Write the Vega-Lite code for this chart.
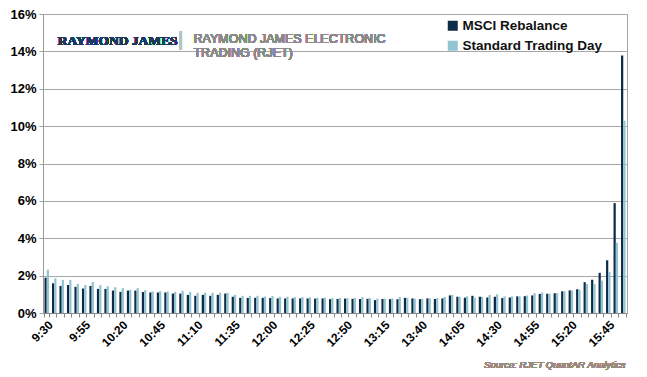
{
  "$schema": "https://vega.github.io/schema/vega-lite/v6.json",
  "width": 584,
  "height": 299,
  "autosize": "none",
  "padding": {"left": 43, "top": 14, "right": 20, "bottom": 64},
  "background": "white",
  "config": {
    "view": {"stroke": "#a6a6a6", "strokeWidth": 1},
    "font": "Liberation Sans",
    "axisY": {
      "title": null,
      "tickCount": 10,
      "labelOverlap": false,
      "labelExpr": "datum.value + '%'",
      "labelFontSize": 13,
      "labelFontWeight": "bold",
      "labelColor": "#000000",
      "labelPadding": 3,
      "tickSize": 4,
      "tickColor": "#a0a0a0",
      "domainColor": "#999999",
      "gridColor": "#a6a6a6",
      "gridWidth": 1
    },
    "axisX": {
      "title": null,
      "labelExpr": "indexof(['9:30','9:55','10:20','10:45','11:10','11:35','12:00','12:25','12:50','13:15','13:40','14:05','14:30','14:55','15:20','15:45'], datum.value) >= 0 ? datum.value : ''",
      "labelOverlap": false,
      "labelAngle": -45,
      "labelAlign": "right",
      "labelBaseline": "top",
      "labelFontSize": 12,
      "labelFontWeight": "bold",
      "labelColor": "#000000",
      "labelPadding": 2,
      "tickBand": "extent",
      "tickSize": 4,
      "tickColor": "#888888",
      "domainColor": "#888888",
      "grid": false
    }
  },
  "data": {
    "values": [
      {"time": "9:30", "MSCI Rebalance": 1.89, "Standard Trading Day": 2.32},
      {"time": "9:35", "MSCI Rebalance": 1.59, "Standard Trading Day": 1.86},
      {"time": "9:40", "MSCI Rebalance": 1.45, "Standard Trading Day": 1.77},
      {"time": "9:45", "MSCI Rebalance": 1.5, "Standard Trading Day": 1.77},
      {"time": "9:50", "MSCI Rebalance": 1.4, "Standard Trading Day": 1.56},
      {"time": "9:55", "MSCI Rebalance": 1.31, "Standard Trading Day": 1.5},
      {"time": "10:00", "MSCI Rebalance": 1.45, "Standard Trading Day": 1.66},
      {"time": "10:05", "MSCI Rebalance": 1.29, "Standard Trading Day": 1.49},
      {"time": "10:10", "MSCI Rebalance": 1.29, "Standard Trading Day": 1.43},
      {"time": "10:15", "MSCI Rebalance": 1.2, "Standard Trading Day": 1.38},
      {"time": "10:20", "MSCI Rebalance": 1.13, "Standard Trading Day": 1.33},
      {"time": "10:25", "MSCI Rebalance": 1.2, "Standard Trading Day": 1.24},
      {"time": "10:30", "MSCI Rebalance": 1.2, "Standard Trading Day": 1.33},
      {"time": "10:35", "MSCI Rebalance": 1.12, "Standard Trading Day": 1.22},
      {"time": "10:40", "MSCI Rebalance": 1.1, "Standard Trading Day": 1.15},
      {"time": "10:45", "MSCI Rebalance": 1.1, "Standard Trading Day": 1.17},
      {"time": "10:50", "MSCI Rebalance": 1.1, "Standard Trading Day": 1.15},
      {"time": "10:55", "MSCI Rebalance": 1.04, "Standard Trading Day": 1.13},
      {"time": "11:00", "MSCI Rebalance": 1.04, "Standard Trading Day": 1.19},
      {"time": "11:05", "MSCI Rebalance": 0.97, "Standard Trading Day": 1.13},
      {"time": "11:10", "MSCI Rebalance": 0.92, "Standard Trading Day": 1.08},
      {"time": "11:15", "MSCI Rebalance": 0.97, "Standard Trading Day": 1.08},
      {"time": "11:20", "MSCI Rebalance": 0.92, "Standard Trading Day": 1.08},
      {"time": "11:25", "MSCI Rebalance": 0.97, "Standard Trading Day": 1.08},
      {"time": "11:30", "MSCI Rebalance": 1.04, "Standard Trading Day": 1.08},
      {"time": "11:35", "MSCI Rebalance": 0.87, "Standard Trading Day": 0.97},
      {"time": "11:40", "MSCI Rebalance": 0.81, "Standard Trading Day": 0.92},
      {"time": "11:45", "MSCI Rebalance": 0.81, "Standard Trading Day": 0.92},
      {"time": "11:50", "MSCI Rebalance": 0.81, "Standard Trading Day": 0.92},
      {"time": "11:55", "MSCI Rebalance": 0.81, "Standard Trading Day": 0.88},
      {"time": "12:00", "MSCI Rebalance": 0.8, "Standard Trading Day": 0.91},
      {"time": "12:05", "MSCI Rebalance": 0.78, "Standard Trading Day": 0.87},
      {"time": "12:10", "MSCI Rebalance": 0.78, "Standard Trading Day": 0.87},
      {"time": "12:15", "MSCI Rebalance": 0.78, "Standard Trading Day": 0.85},
      {"time": "12:20", "MSCI Rebalance": 0.78, "Standard Trading Day": 0.85},
      {"time": "12:25", "MSCI Rebalance": 0.78, "Standard Trading Day": 0.84},
      {"time": "12:30", "MSCI Rebalance": 0.77, "Standard Trading Day": 0.82},
      {"time": "12:35", "MSCI Rebalance": 0.78, "Standard Trading Day": 0.82},
      {"time": "12:40", "MSCI Rebalance": 0.74, "Standard Trading Day": 0.8},
      {"time": "12:45", "MSCI Rebalance": 0.75, "Standard Trading Day": 0.8},
      {"time": "12:50", "MSCI Rebalance": 0.77, "Standard Trading Day": 0.8},
      {"time": "12:55", "MSCI Rebalance": 0.76, "Standard Trading Day": 0.8},
      {"time": "13:00", "MSCI Rebalance": 0.75, "Standard Trading Day": 0.85},
      {"time": "13:05", "MSCI Rebalance": 0.76, "Standard Trading Day": 0.8},
      {"time": "13:10", "MSCI Rebalance": 0.69, "Standard Trading Day": 0.77},
      {"time": "13:15", "MSCI Rebalance": 0.75, "Standard Trading Day": 0.77},
      {"time": "13:20", "MSCI Rebalance": 0.74, "Standard Trading Day": 0.78},
      {"time": "13:25", "MSCI Rebalance": 0.74, "Standard Trading Day": 0.86},
      {"time": "13:30", "MSCI Rebalance": 0.81, "Standard Trading Day": 0.81},
      {"time": "13:35", "MSCI Rebalance": 0.78, "Standard Trading Day": 0.77},
      {"time": "13:40", "MSCI Rebalance": 0.74, "Standard Trading Day": 0.76},
      {"time": "13:45", "MSCI Rebalance": 0.78, "Standard Trading Day": 0.78},
      {"time": "13:50", "MSCI Rebalance": 0.75, "Standard Trading Day": 0.8},
      {"time": "13:55", "MSCI Rebalance": 0.78, "Standard Trading Day": 0.86},
      {"time": "14:00", "MSCI Rebalance": 0.94, "Standard Trading Day": 0.97},
      {"time": "14:05", "MSCI Rebalance": 0.87, "Standard Trading Day": 0.87},
      {"time": "14:10", "MSCI Rebalance": 0.82, "Standard Trading Day": 0.89},
      {"time": "14:15", "MSCI Rebalance": 0.92, "Standard Trading Day": 0.82},
      {"time": "14:20", "MSCI Rebalance": 0.87, "Standard Trading Day": 0.87},
      {"time": "14:25", "MSCI Rebalance": 0.83, "Standard Trading Day": 0.97},
      {"time": "14:30", "MSCI Rebalance": 0.87, "Standard Trading Day": 1.0},
      {"time": "14:35", "MSCI Rebalance": 0.8, "Standard Trading Day": 0.89},
      {"time": "14:40", "MSCI Rebalance": 0.83, "Standard Trading Day": 0.89},
      {"time": "14:45", "MSCI Rebalance": 0.89, "Standard Trading Day": 0.89},
      {"time": "14:50", "MSCI Rebalance": 0.9, "Standard Trading Day": 0.94},
      {"time": "14:55", "MSCI Rebalance": 0.94, "Standard Trading Day": 1.06},
      {"time": "15:00", "MSCI Rebalance": 1.02, "Standard Trading Day": 1.1},
      {"time": "15:05", "MSCI Rebalance": 1.03, "Standard Trading Day": 1.03},
      {"time": "15:10", "MSCI Rebalance": 1.06, "Standard Trading Day": 1.06},
      {"time": "15:15", "MSCI Rebalance": 1.16, "Standard Trading Day": 1.16},
      {"time": "15:20", "MSCI Rebalance": 1.21, "Standard Trading Day": 1.2},
      {"time": "15:25", "MSCI Rebalance": 1.27, "Standard Trading Day": 1.25},
      {"time": "15:30", "MSCI Rebalance": 1.65, "Standard Trading Day": 1.55},
      {"time": "15:35", "MSCI Rebalance": 1.78, "Standard Trading Day": 1.55},
      {"time": "15:40", "MSCI Rebalance": 2.15, "Standard Trading Day": 1.73},
      {"time": "15:45", "MSCI Rebalance": 2.82, "Standard Trading Day": 2.19},
      {"time": "15:50", "MSCI Rebalance": 5.88, "Standard Trading Day": 3.76},
      {"time": "15:55", "MSCI Rebalance": 13.78, "Standard Trading Day": 10.29}
    ]
  },
  "layer": [
    {
      "transform": [
        {"fold": ["MSCI Rebalance", "Standard Trading Day"], "as": ["series", "value"]}
      ],
      "mark": {"type": "bar"},
      "encoding": {
        "x": {
          "field": "time",
          "type": "ordinal",
          "sort": null,
          "scale": {"paddingInner": 0.4, "paddingOuter": 0.2}
        },
        "xOffset": {
          "field": "series",
          "type": "nominal",
          "sort": ["MSCI Rebalance", "Standard Trading Day"],
          "scale": {"paddingInner": 0, "paddingOuter": 0}
        },
        "y": {
          "field": "value",
          "type": "quantitative",
          "scale": {"domain": [0, 16], "nice": false},
          "axis": {"values": [0, 2, 4, 6, 8, 10, 12, 14, 16], "tickCount": 10}
        },
        "color": {
          "field": "series",
          "type": "nominal",
          "scale": {
            "domain": ["MSCI Rebalance", "Standard Trading Day"],
            "range": ["#0e2c47", "#92c4d1"]
          },
          "legend": {
            "title": null,
            "orient": "none",
            "legendX": 403,
            "legendY": 5,
            "symbolType": "square",
            "symbolSize": 100,
            "symbolStrokeWidth": 0,
            "labelFontSize": 13.5,
            "labelFontWeight": "bold",
            "labelColor": "#111111",
            "rowPadding": 5,
            "padding": 0,
            "labelOffset": 3
          }
        }
      }
    },
    {
      "mark": {"type": "text", "text": "RAYMOND JAMES", "align": "left", "baseline": "alphabetic", "font": "Liberation Serif", "fontWeight": "bold", "fontSize": 13.5, "color": "#1b3a5e", "dx": -4},
      "encoding": {"x": {"datum": "9:40"}, "y": {"datum": 14.35}}
    },
    {
      "mark": {"type": "text", "text": "|", "align": "center", "baseline": "alphabetic", "font": "Liberation Sans", "fontSize": 20, "color": "#c0c0c0", "dx": -1},
      "encoding": {"x": {"datum": "11:00"}, "y": {"datum": 14.3}}
    },
    {
      "mark": {"type": "text", "text": ["RAYMOND JAMES ELECTRONIC", "TRADING  (RJET)"], "lineHeight": 14, "align": "left", "baseline": "alphabetic", "font": "Liberation Sans", "fontSize": 12.5, "color": "#8a8a8a", "dx": -3},
      "encoding": {"x": {"datum": "11:10"}, "y": {"datum": 14.45}}
    },
    {
      "mark": {"type": "text", "text": "Source: RJET QuantAR Analytics", "align": "right", "baseline": "alphabetic", "font": "Liberation Sans", "fontStyle": "italic", "fontSize": 9.5, "color": "#9c8a80", "dx": 2, "clip": false},
      "encoding": {"x": {"datum": "15:55"}, "y": {"datum": -2.95}}
    }
  ]
}
